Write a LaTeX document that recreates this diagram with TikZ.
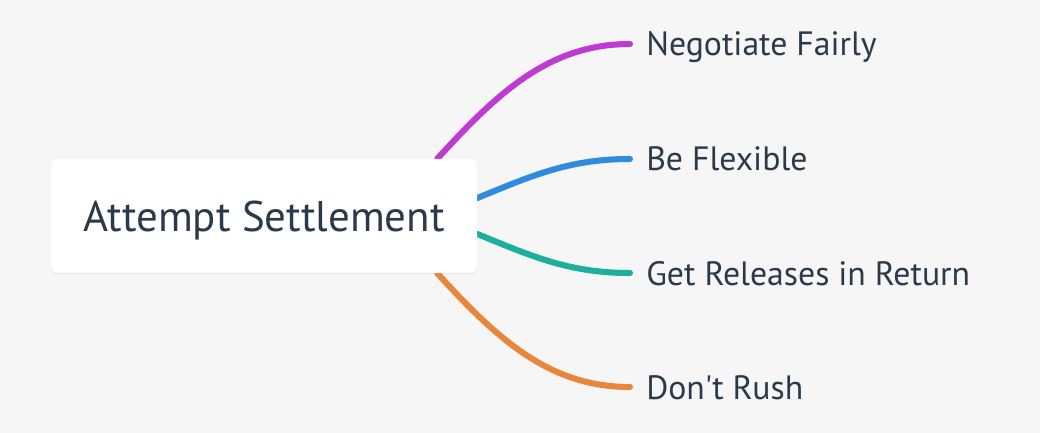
\documentclass[tikz,border=0pt]{standalone}
\usepackage{fontspec}
\setmainfont{PT Sans}[Ligatures=TeXOff]
\usepackage{tikz}
\usetikzlibrary{calc, shadows, backgrounds}
\definecolor{paper}{HTML}{F6F6F6}
\definecolor{ink}{HTML}{2B3A4A}
\definecolor{brpurple}{HTML}{BF3AD3}
\definecolor{brblue}{HTML}{2E8BDF}
\definecolor{brteal}{HTML}{1BAF9D}
\definecolor{brorange}{HTML}{E8873B}
\tikzset{
    rootblk/.style={fill=white, rounded corners=5pt, minimum width=10.65cm, minimum height=2.85cm,
                    text=ink, font=\fontsize{30.5}{36}\selectfont, inner sep=0pt, text depth=0pt,
                    drop shadow={shadow xshift=0pt, shadow yshift=-1pt, opacity=0.06, fill=black}},
    leaf/.style={anchor=base west, inner sep=0pt, text=ink, font=\fontsize{24}{28}\selectfont},
    branch/.style={line width=4.3pt, line cap=round}
}

\begin{document}
\begin{tikzpicture}[x=0.025cm, y=-0.025cm]
        \useasboundingbox (0,0) rectangle (1040,433);
        \node[rootblk] (root) at (264,216) {Attempt Settlement};
        \node[leaf] (neg) at (646,56) {Negotiate Fairly};
        \node[leaf] (flex) at (646,171) {Be Flexible};
        \node[leaf] (rel) at (646,285) {Get Releases in Return};
        \node[leaf] (rush) at (646,399) {Don't Rush};
        \begin{scope}[on background layer]
            \fill[paper] (0,0) rectangle (1040,433);
            \draw[branch, brpurple] ($(root.north east)+(-40,0)$) .. controls +(61,-67) and +(-80,0) .. ($(neg.base west)+(-16,-12)$);
            \draw[branch, brblue] ($(root.east)+(0,-18)$) .. controls +(56,-23) and +(-60,0) .. ($(flex.base west)+(-16,-12)$);
            \draw[branch, brteal] ($(root.east)+(0,18)$) .. controls +(56,23) and +(-60,0) .. ($(rel.base west)+(-16,-12)$);
            \draw[branch, brorange] ($(root.south east)+(-40,0)$) .. controls +(61,67) and +(-80,0) .. ($(rush.base west)+(-16,-12)$);
        \end{scope}
    \end{tikzpicture}
\end{document}
